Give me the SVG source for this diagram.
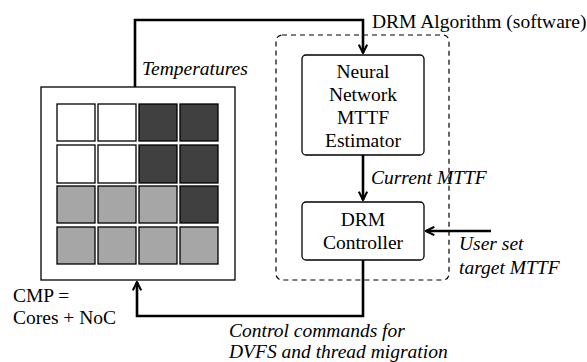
<svg xmlns="http://www.w3.org/2000/svg" width="587" height="362" viewBox="0 0 587 362">
<style>
text{font-family:"Liberation Serif","Times New Roman",serif;font-size:19.5px;fill:#000}
.it{font-style:italic}
.c{stroke:#000;stroke-width:1.3}
.w{fill:#fff}.d{fill:#404040}.g{fill:#a6a6a6}
.box{fill:#fff;stroke:#000;stroke-width:1.3}
.conn{fill:none;stroke:#000;stroke-width:2.6}
.dash{fill:none;stroke:#000;stroke-width:1.2;stroke-dasharray:5,4}
</style>
<defs>
<marker id="ah" viewBox="0 0 10 10" refX="9" refY="5" markerWidth="4" markerHeight="4" orient="auto" markerUnits="strokeWidth">
<path d="M1,1 L9,5 L1,9" fill="none" stroke="#000" stroke-width="2"/>
</marker>
</defs>
<rect width="587" height="362" fill="#fff"/>
<g id="drm-algorithm">
<rect class="dash" x="276" y="35" width="173" height="245" rx="6"/>
<text x="372" y="28">DRM Algorithm (software)</text>
</g>
<g id="cmp">
<rect class="box" x="41" y="87" width="194" height="193"/>
<rect class="c w" x="57" y="104" width="38" height="37"/>
<rect class="c w" x="98" y="104" width="38" height="37"/>
<rect class="c d" x="139" y="104" width="38" height="37"/>
<rect class="c d" x="180" y="104" width="38" height="37"/>
<rect class="c w" x="57" y="145" width="38" height="38"/>
<rect class="c w" x="98" y="145" width="38" height="38"/>
<rect class="c d" x="139" y="145" width="38" height="38"/>
<rect class="c d" x="180" y="145" width="38" height="38"/>
<rect class="c g" x="57" y="186" width="38" height="37"/>
<rect class="c g" x="98" y="186" width="38" height="37"/>
<rect class="c g" x="139" y="186" width="38" height="37"/>
<rect class="c d" x="180" y="186" width="38" height="37"/>
<rect class="c g" x="57" y="227" width="38" height="37"/>
<rect class="c g" x="98" y="227" width="38" height="37"/>
<rect class="c g" x="139" y="227" width="38" height="37"/>
<rect class="c g" x="180" y="227" width="38" height="37"/>
<text x="13" y="302">CMP =</text>
<text x="13" y="324">Cores + NoC</text>
</g>
<g id="nn-estimator">
<rect class="box" x="302" y="55" width="122" height="100" rx="4"/>
<text x="363" y="78" text-anchor="middle">Neural</text>
<text x="363" y="101" text-anchor="middle">Network</text>
<text x="363" y="124" text-anchor="middle">MTTF</text>
<text x="363" y="147" text-anchor="middle">Estimator</text>
</g>
<g id="drm-controller">
<rect class="box" x="302" y="202" width="122" height="58" rx="4"/>
<text x="363" y="226" text-anchor="middle">DRM</text>
<text x="363" y="249" text-anchor="middle">Controller</text>
</g>
<g id="connectors">
<path class="conn" d="M135,87 V20 H363 V53" marker-end="url(#ah)"/>
<path class="conn" d="M363,155 V200" marker-end="url(#ah)"/>
<path class="conn" d="M491,231 H426" marker-end="url(#ah)"/>
<path class="conn" d="M363,260 V316 H137 V282" marker-end="url(#ah)"/>
<text class="it" x="142" y="75">Temperatures</text>
<text class="it" x="371" y="184">Current MTTF</text>
<text class="it" x="459" y="250">User set</text>
<text class="it" x="459" y="274">target MTTF</text>
<text class="it" x="229" y="337">Control commands for</text>
<text class="it" x="229" y="358">DVFS and thread migration</text>
</g>
</svg>
